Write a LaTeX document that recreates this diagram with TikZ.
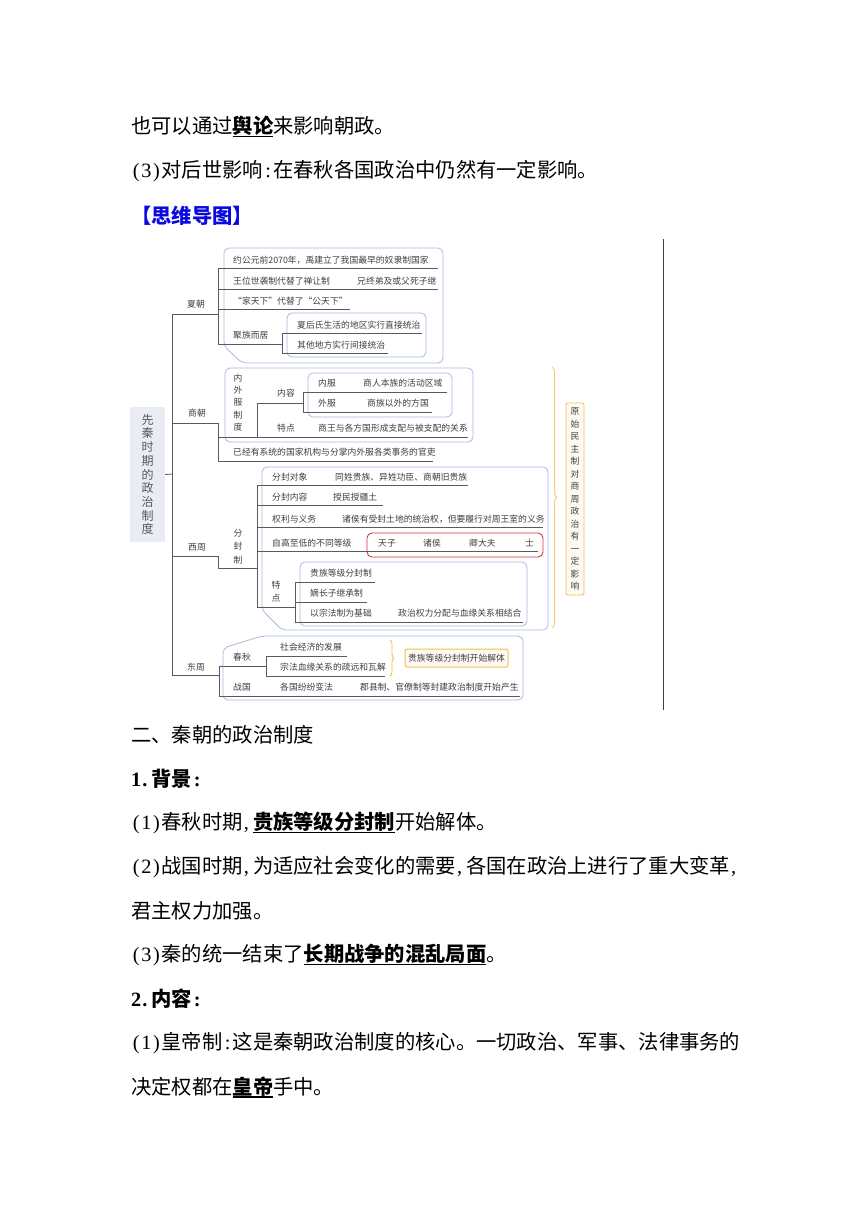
\documentclass[tikz,border=0pt]{standalone}
\usepackage{fontspec}
\setmainfont{Noto Sans CJK SC}
\newfontfamily\latinfont{Liberation Serif}
\usetikzlibrary{decorations.pathreplacing}
\definecolor{tx}{HTML}{404040}
\definecolor{lnc}{HTML}{5A5A5A}
\definecolor{bb}{HTML}{A9B9E2}
\definecolor{rb}{HTML}{D7353D}
\definecolor{ob}{HTML}{F0C25A}
\definecolor{rootfill}{HTML}{E9ECF4}
\definecolor{myblue}{HTML}{0A0AE0}
\newcommand\myul[1]{\setbox0\hbox{#1}\rlap{\rule[-3.5pt]{\wd0}{1.1pt}}\box0}
\newcommand\hw[1]{\makebox[0.5em][c]{\latinfont #1}}
\newcommand\hwl[1]{\makebox[0.5em][l]{\hspace{1pt}\latinfont #1}}
\begin{document}
\begin{tikzpicture}[x=1pt,y=-1pt,
  mmtext/.style={font=\fontsize{8.8}{10}\selectfont, text=tx, inner sep=0pt, anchor=west},
  vstack/.style={text=tx, inner sep=0pt, align=center, anchor=center},
  bodytext/.style={font=\fontsize{20.3}{22}\selectfont, text=black, inner sep=0pt, anchor=west},
  conn/.style={draw=lnc, line width=0.8pt},
  grp/.style={draw=bb, line width=0.8pt, rounded corners=5pt},
]
\useasboundingbox (0,0) rectangle (860,1216);
\fill[white] (0,0) rectangle (860,1216);

% ---------------- body text ----------------
\node[bodytext] (t1) at (131,127) {也可以通过\myul{\bfseries 舆论}来影响朝政。};
\node[bodytext] (t2) at (131,171) {\hw{(}\hw{3}\hw{)}对后世影响\hw{:}在春秋各国政治中仍然有一定影响。};
\node[bodytext, text=myblue, font=\fontsize{20.3}{22}\selectfont\bfseries] (t3) at (131,216) {【思维导图】};
\node[bodytext] (t4) at (131,735) {二、秦朝的政治制度};
\node[bodytext, font=\fontsize{20.3}{22}\selectfont\bfseries] (t5) at (131,779) {\hw{1}\hwl{.}背景\hw{:}};
\node[bodytext] (t6) at (131,823) {\hw{(}\hw{1}\hw{)}春秋时期\hwl{,}\myul{\bfseries 贵族等级分封制}开始解体。};
\node[bodytext] (t7) at (131,867) {\hw{(}\hw{2}\hw{)}战国时期\hwl{,}为适应社会变化的需要\hwl{,}各国在政治上进行了重大变革\hwl{,}};
\node[bodytext] (t8) at (131,911) {君主权力加强。};
\node[bodytext] (t9) at (131,955) {\hw{(}\hw{3}\hw{)}秦的统一结束了\myul{\bfseries 长期战争的混乱局面}。};
\node[bodytext, font=\fontsize{20.3}{22}\selectfont\bfseries] (t10) at (131,999) {\hw{2}\hwl{.}内容\hw{:}};
\node[bodytext] (t11) at (131,1043) {\hw{(}\hw{1}\hw{)}皇帝制\hw{:}这是秦朝政治制度的核心。一切政治、军事、法律事务的};
\node[bodytext] (t12) at (131,1087) {决定权都在\myul{\bfseries 皇帝}手中。};

% ---------------- mind map ----------------
\draw[line width=1pt, draw=black!75] (663,239) -- (663,710);

% root
\node[vstack, minimum width=35pt, minimum height=135pt, fill=rootfill,
      font=\fontsize{12}{13.7}\selectfont, text=black!65] (root) at (147.5,474.5)
      {先\\秦\\时\\期\\的\\政\\治\\制\\度};
\draw[conn] (root.east) -- (172,474);
\draw[conn] (218,314) -- (172,314) -- (172,675) -- (219,675);
\draw[conn] (172,423) -- (218,423);
\draw[conn] (172,556) -- (218,556) -- (218,568) -- (257,568);

% level-1 labels
\node[mmtext, anchor=center] (xia) at (196,304) {夏朝};
\node[mmtext, anchor=center] (shang) at (197,413) {商朝};
\node[mmtext, anchor=center] (xizhou) at (197,547) {西周};
\node[mmtext, anchor=center] (dongzhou) at (196,667) {东周};

% ---- Xia ----
\draw[grp] (224,346) -- (224,248) -- (443,248) -- (443,363) -- (242,363) -- cycle;
\draw[grp] (287,313) rectangle (426,357);
\draw[conn] (218,268) -- (218,344);
\draw[conn] (218,268) -- (438,268);
\draw[conn] (218,289) -- (438,289);
\draw[conn] (218,309) -- (350,309);
\draw[conn] (218,344) -- (282,344);
\draw[conn] (282,333) -- (282,353);
\draw[conn] (282,333) -- (422,333);
\draw[conn] (282,353) -- (388,353);
\node[mmtext] (x1) at (233,260) {约公元前2070年，禹建立了我国最早的奴隶制国家};
\node[mmtext] (x2) at (233,281) {王位世袭制代替了禅让制};
\node[mmtext] (x2b) at (357,281) {兄终弟及或父死子继};
\node[mmtext] (x3) at (233,301) {“家天下”代替了“公天下”};
\node[mmtext] (x4) at (233,335) {聚族而居};
\node[mmtext] (x4a) at (297,325) {夏后氏生活的地区实行直接统治};
\node[mmtext] (x4b) at (297,345) {其他地方实行间接统治};

% ---- Shang ----
\draw[grp] (225,368) rectangle (473,442);
\draw[grp] (308,373) rectangle (452,417);
\draw[conn] (218,423) -- (218,461) -- (433,461);
\draw[conn] (218,437) -- (468,437);
\draw[conn] (257,437) -- (257,403) -- (303,403);
\draw[conn] (303,392) -- (303,412);
\draw[conn] (303,392) -- (447,392);
\draw[conn] (303,412) -- (432,412);
\node[vstack, font=\fontsize{8.8}{12.3}\selectfont] (nwf) at (238,402.5) {内\\外\\服\\制\\度};
\node[mmtext] (s1) at (277,393) {内容};
\node[mmtext] (s1a) at (318,383) {内服};
\node[mmtext] (s1a2) at (363,383) {商人本族的活动区域};
\node[mmtext] (s1b) at (318,403) {外服};
\node[mmtext] (s1b2) at (367,403) {商族以外的方国};
\node[mmtext] (s2) at (277,428) {特点};
\node[mmtext] (s2a) at (318,428) {商王与各方国形成支配与被支配的关系};
\node[mmtext] (s3) at (233,452) {已经有系统的国家机构与分掌内外服各类事务的官吏};

% ---- Xi Zhou ----
\draw[grp] (262,610) -- (262,467) -- (548,467) -- (548,630) -- (282,630) -- cycle;
\draw[grp] (300,562) rectangle (527,626);
\draw[rb, line width=0.9pt, rounded corners=5pt] (367,533) rectangle (543,557);
\draw[conn] (257,485) -- (257,607);
\draw[conn] (257,485) -- (468,485);
\draw[conn] (257,505) -- (383,505);
\draw[conn] (257,527) -- (543,527);
\draw[conn] (257,551) -- (538,551);
\draw[conn] (257,607) -- (295,607);
\draw[conn] (295,582) -- (295,622);
\draw[conn] (295,582) -- (375,582);
\draw[conn] (295,602) -- (367,602);
\draw[conn] (295,622) -- (523,622);
\node[vstack, font=\fontsize{8.8}{13.5}\selectfont] (ffz) at (238,546.5) {分\\封\\制};
\node[mmtext] (w1) at (272,477) {分封对象};
\node[mmtext] (w1a) at (335,477) {同姓贵族、异姓功臣、商朝旧贵族};
\node[mmtext] (w2) at (272,497) {分封内容};
\node[mmtext] (w2a) at (333,497) {授民授疆土};
\node[mmtext] (w3) at (272,519) {权利与义务};
\node[mmtext] (w3a) at (342,519) {诸侯有受封土地的统治权，但要履行对周王室的义务};
\node[mmtext] (w4) at (272,543) {自高至低的不同等级};
\node[mmtext] (w4a) at (378,543) {天子};
\node[mmtext] (w4b) at (423,543) {诸侯};
\node[mmtext] (w4c) at (469,543) {卿大夫};
\node[mmtext] (w4d) at (525,543) {士};
\node[vstack, font=\fontsize{8.8}{13}\selectfont] (td) at (276,591.5) {特\\点};
\node[mmtext] (w5a) at (310,573) {贵族等级分封制};
\node[mmtext] (w5b) at (310,593) {嫡长子继承制};
\node[mmtext] (w5c) at (310,613) {以宗法制为基础};
\node[mmtext] (w5c2) at (398,613) {政治权力分配与血缘关系相结合};

% ---- Dong Zhou ----
\draw[grp] (223,700) -- (223,648) -- (262,636) -- (523,636) -- (523,700) -- cycle;
\draw[conn] (219,666) -- (219,696);
\draw[conn] (219,666) -- (266,666);
\draw[conn] (266,656) -- (266,676);
\draw[conn] (266,656) -- (347,656);
\draw[conn] (266,676) -- (385,676);
\draw[conn] (219,696) -- (520,696);
\node[mmtext] (d1) at (233,657) {春秋};
\node[mmtext] (d1a) at (280,647) {社会经济的发展};
\node[mmtext] (d1b) at (280,667) {宗法血缘关系的疏远和瓦解};
\node[mmtext] (d2) at (233,687) {战国};
\node[mmtext] (d2a) at (280,687) {各国纷纷变法};
\node[mmtext] (d2b) at (360,687) {郡县制、官僚制等封建政治制度开始产生};
\draw[ob, line width=0.9pt, decorate, decoration={brace, amplitude=4pt}] (390,640) -- (390,676);
\node[draw=ob, line width=1pt, fill=ob!8, rounded corners=2pt, minimum width=103pt, minimum height=18pt,
      inner sep=0pt, font=\fontsize{8.8}{10}\selectfont, text=tx] (jieti) at (456.5,658) {贵族等级分封制开始解体};

% ---- right summary ----
\draw[ob!80, line width=1pt, decorate, decoration={brace, amplitude=5pt}] (552,367) -- (552,628);
\node[vstack, draw=ob, line width=0.9pt, fill=ob!8, rounded corners=2pt, minimum width=18pt, minimum height=192pt,
      font=\fontsize{8.8}{12.5}\selectfont] (ys) at (575,499)
      {原\\始\\民\\主\\制\\对\\商\\周\\政\\治\\有\\一\\定\\影\\响};
\end{tikzpicture}
\end{document}
